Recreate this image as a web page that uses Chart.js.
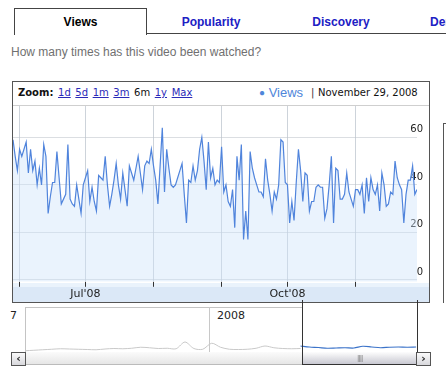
<!DOCTYPE html>
<html>
<head>
<meta charset="utf-8">
<script src="https://cdn.jsdelivr.net/npm/chart.js@4.4.1/dist/chart.umd.min.js"></script>
<style>
body { margin:0; width:446px; height:384px; overflow:hidden; background:#fff; position:relative; font-family:Arial, "Liberation Sans", sans-serif; }
.abs { position:absolute; }
.tab { position:absolute; top:8px; height:26px; line-height:29px; font-weight:bold; font-size:12px; color:#2020c4; text-align:center; }
.hdr { position:absolute; top:87px; height:12px; line-height:12px; font-family:"DejaVu Sans", Verdana, sans-serif; font-size:10px; color:#111; white-space:nowrap; }
.hdr a { color:#2a2ab8; text-decoration:underline; margin-left:4.6px; }
.hdr span.cur { margin-left:4.6px; }
.btn { position:absolute; top:352px; height:12px; width:13px; border:1px solid #555; background:linear-gradient(#fafafa, #d8d8dc); font:bold 11px "DejaVu Sans", sans-serif; line-height:12px; text-align:center; color:#222; }
</style>
</head>
<body>

<!-- tabs -->
<div class="abs" style="left:14px;top:8px;width:131px;height:26px;border:1px solid #444;border-bottom:none;background:#fff;"></div>
<div class="abs" style="left:146px;top:33px;width:300px;height:1px;background:#444;"></div>
<div class="tab" style="left:14px;width:133px;color:#000;">Views</div>
<div class="tab" style="left:160px;width:102px;">Popularity</div>
<div class="tab" style="left:290px;width:102px;">Discovery</div>
<div class="tab" style="left:430px;width:60px;text-align:left;">Demographics</div>

<div class="abs" style="left:11px;top:45px;font-size:12px;color:#707070;">How many times has this video been watched?</div>

<!-- chart panel -->
<div class="abs" style="left:12px;top:81px;width:418px;height:222px;box-sizing:border-box;border:1px solid #555;"></div>
<div class="abs" style="left:13px;top:105px;width:416px;height:1px;background:#cfcfcf;"></div>
<div class="abs" style="left:13px;top:283px;width:416px;height:4px;background:#eaf3fc;"></div>
<div class="abs" style="left:13px;top:287px;width:416px;height:15px;background:#dbe8f7;"></div>

<div class="hdr" style="left:18px;"><b>Zoom:</b><a>1d</a><a>5d</a><a>1m</a><a>3m</a><span class="cur">6m</span><a>1y</a><a>Max</a></div>
<div class="abs" style="left:259px;top:85px;font-size:13px;color:#4f86da;line-height:16px;"><span style="font-size:10px;position:relative;top:-1px;">&#9679;</span> Views</div>
<div class="hdr" style="left:311px;color:#333;">|</div>
<div class="hdr" style="left:318px;">November 29, 2008</div>

<canvas id="grafico" class="abs" style="left:13px;top:106px;" width="416" height="196"></canvas>

<!-- next panel, cut off on the right -->
<div class="abs" style="left:443px;top:123px;width:10px;height:179px;border-left:1px solid #555;border-top:1px solid #555;"></div>

<!-- overview / navigator -->
<div class="abs" style="left:25px;top:307px;width:277px;height:45px;box-sizing:border-box;border-top:1px solid #c4c4c4;border-left:1px solid #c4c4c4;"></div>
<div class="abs" style="left:10px;top:309px;width:12px;height:14px;overflow:hidden;"><span class="abs" style="left:-21px;top:0;font:11px 'DejaVu Sans',sans-serif;color:#222;">2007</span></div>
<div class="abs" style="left:217px;top:309px;font:11px 'DejaVu Sans',sans-serif;color:#222;">2008</div>
<canvas id="graficoResumo" class="abs" style="left:25px;top:307px;" width="392" height="45"></canvas>

<div class="abs" style="left:25px;top:352px;width:392px;height:12px;border-bottom:1px solid #bbb;background:linear-gradient(#fbfbfb,#e6e6e6);"></div>
<div class="abs" style="left:302px;top:300px;width:114px;height:64px;border-left:1px solid #333;border-right:1px solid #333;border-bottom:1px solid #333;"></div>
<div class="abs" style="left:303px;top:352px;width:114px;height:12px;background:linear-gradient(#fdfdfd,#c9c9d2);text-align:center;font:7px sans-serif;line-height:12px;color:#777;letter-spacing:-0.5px;">||||</div>
<div class="btn" style="left:11px;">&lsaquo;</div>
<div class="btn" style="left:416px;">&rsaquo;</div>

<script>
// views per day, 29 May 2008 .. 29 Nov 2008
let views = [
    59, 52, 46, 55, 52, 55, 58, 45, 55, 46, 50, 40, 47, 40, 57, 52, 28, 35, 41, 41,
    54, 43, 32, 34, 36, 57, 34, 32, 31, 40, 34, 28, 40, 43, 46, 33, 39, 33, 29, 44,
    43, 42, 52, 40, 31, 36, 42, 49, 40, 34, 45, 38, 31, 48, 45, 42, 47, 52, 45, 38,
    48, 50, 49, 55, 48, 42, 32, 48, 64, 37, 55, 47, 40, 39, 40, 43, 46, 49, 36, 24,
    42, 41, 48, 42, 46, 55, 60, 50, 38, 58, 43, 47, 40, 42, 41, 56, 37, 40, 33, 31,
    38, 22, 52, 42, 57, 17, 29, 17, 54, 47, 43, 40, 37, 37, 35, 51, 42, 36, 29, 37,
    34, 40, 59, 58, 41, 40, 24, 33, 25, 41, 55, 46, 33, 45, 44, 29, 33, 33, 39, 40,
    39, 39, 26, 30, 40, 52, 24, 47, 46, 34, 34, 36, 45, 37, 34, 31, 38, 38, 36, 40,
    28, 43, 33, 43, 38, 36, 40, 29, 45, 40, 31, 32, 37, 36, 50, 43, 40, 38, 24, 36,
    42, 42, 48, 36, 38
];

// first day of each month, counted from 29 May
let mesesDia = [3, 33, 64, 95, 125, 156];
let mesesLabel = ['', "Jul'08", '', '', "Oct'08", ''];
let yTicks = [0, 20, 40, 60];

// overview: roughly every two weeks since early 2007
let resumoCinza = [
    10, 14, 18, 22, 26, 24, 22, 20, 18, 24, 28, 26, 30, 38, 34, 28, 30, 26, 80, 28,
    22, 70, 38, 22, 20, 22, 30, 48, 34, 28, 26, 28
];
let resumoAzul = [48, 40, 36, 30, 32, 34, 32, 46, 40, 34, 38, 40, 38, 40];
let resumoInicioAzul = 31;
let resumo2008 = 20.7;

window.onload = function(){

    // 📈 VIEWS
    new Chart(document.getElementById('grafico'), {
        type: 'line',
        data: {
            datasets: [{
                label: 'Views',
                data: views.map((v, i) => ({ x: i, y: v })),
                borderColor: '#5084dc',
                borderWidth: 1.2,
                backgroundColor: 'rgba(205,227,250,0.42)',
                fill: 'start',
                pointRadius: 0,
                tension: 0
            }]
        },
        options: {
            responsive: false,
            animation: false,
            devicePixelRatio: 1,
            layout: { padding: 0 },
            plugins: { legend: { display: false }, tooltip: { enabled: false } },
            scales: {
                x: {
                    type: 'linear',
                    min: 0,
                    max: views.length - 1,
                    afterBuildTicks: s => { s.ticks = mesesDia.map(v => ({ value: v })); },
                    grid: { color: '#cdd3da', tickColor: '#333', tickLength: 5 },
                    border: { display: false },
                    ticks: {
                        autoSkip: false,
                        maxRotation: 0,
                        padding: 1,
                        color: '#222',
                        font: { family: 'DejaVu Sans', size: 11 },
                        callback: (v, i) => mesesLabel[i]
                    }
                },
                y: {
                    position: 'right',
                    z: 1,
                    min: -0.8,
                    max: 73.2,
                    afterBuildTicks: s => { s.ticks = yTicks.map(v => ({ value: v })); },
                    afterFit: s => { s.paddingTop = 0; s.paddingBottom = 0; },
                    grid: { color: 'rgba(190,195,202,0.55)', drawTicks: false },
                    border: { display: false },
                    ticks: {
                        mirror: true,
                        padding: 6,
                        labelOffset: -7.5,
                        color: '#222',
                        font: { family: 'DejaVu Sans', size: 10 }
                    }
                }
            }
        }
    });

    // 🔭 OVERVIEW
    let cinza = resumoCinza.map((v, i) => ({ x: i, y: v }));
    let azul = resumoAzul.map((v, i) => ({ x: resumoInicioAzul + i, y: v }));

    new Chart(document.getElementById('graficoResumo'), {
        type: 'line',
        data: {
            datasets: [
                { data: cinza, borderColor: '#c9c9c9', borderWidth: 1, pointRadius: 0, tension: 0.3 },
                { data: azul, borderColor: '#3b73c9', borderWidth: 1.2, pointRadius: 0, tension: 0.3 }
            ]
        },
        options: {
            responsive: false,
            animation: false,
            devicePixelRatio: 1,
            layout: { padding: 0 },
            plugins: { legend: { display: false }, tooltip: { enabled: false } },
            scales: {
                x: {
                    type: 'linear',
                    min: 0,
                    max: 44.1,
                    afterBuildTicks: s => { s.ticks = [{ value: resumo2008 }]; },
                    grid: { color: '#c8c8c8', drawTicks: false },
                    border: { display: false },
                    ticks: { display: false }
                },
                y: { display: false, min: 0, max: 360 }
            }
        }
    });

}
</script>
</body>
</html>
